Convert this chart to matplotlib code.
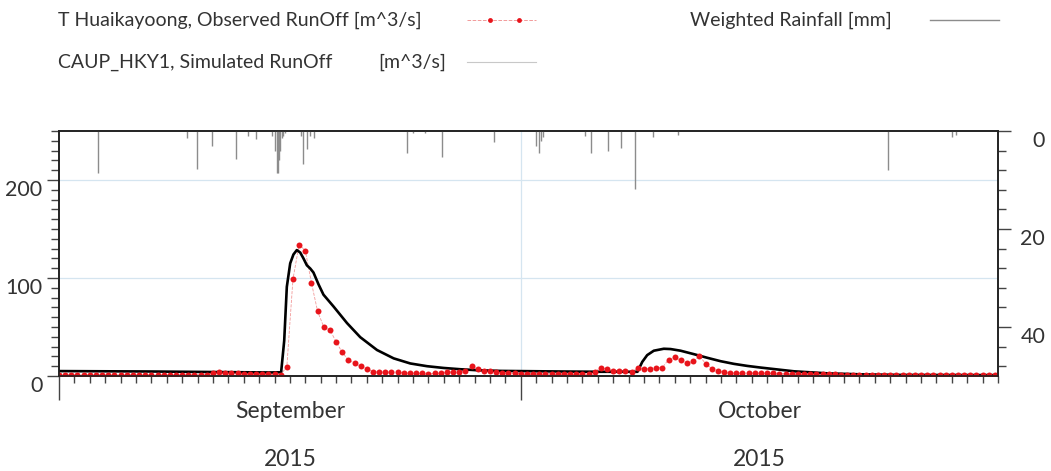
import numpy as np
import matplotlib
matplotlib.use("Agg")
import matplotlib.pyplot as plt
from matplotlib.lines import Line2D
from matplotlib.ticker import MultipleLocator, FixedLocator, NullFormatter
import matplotlib.transforms as mtransforms

plt.rcParams['font.family'] = ['Lato', 'DejaVu Sans']

# observed runoff, one reading every 0.4 day from 1 Sep 2015
obs_step = 0.4
obs_runoff = [
    1.0, 1.0, 0.9, 0.9, 0.9, 0.9, 0.9, 0.8, 0.8, 0.8, 0.8, 0.8, 0.8, 0.8, 0.7,
    0.7, 0.7, 0.7, 0.7, 0.7, 0.8, 1.0, 1.0, 1.2, 1.5,
    3.5, 3.6, 3.5, 3.4, 3.2,
    2.4, 2.3, 2.2, 2.1, 2.0, 1.7, 1.5,
    9.3, 99, 134, 128, 95, 66, 50, 47, 35, 24, 16.5, 12.8, 10, 7.2, 4.5, 4.2,
    4, 4, 4, 3.3, 3, 3, 2.6, 2.3, 2.6, 2.6, 4.2, 4, 3.6, 5, 9.7, 7.3, 5.3, 4.6,
    4, 3.3,
    2.9, 2.6, 2.5, 2.4, 2.4, 2.4, 2.4, 2.4, 2.4, 2.4, 2.4, 2.4, 2.4, 2.4,
    4.1, 8.6, 6.9, 5.5, 5.2, 4.8, 4.1, 8.2, 7.2, 7.6, 8.6, 8.6, 16.8, 18.9,
    16.2, 13.4, 14.8, 20.6, 12.7, 7.6, 5.2, 3.8, 3.4, 3.1, 3.1, 3.1, 3.1,
    3.0, 2.8, 2.6, 2.5, 2.4, 2.4, 2.3, 2.2, 2.1, 2.0, 1.9, 1.8, 1.6, 1.4, 1.2,
    1.0, 0.9, 0.8, 0.7, 0.7, 0.7, 0.7, 0.7, 0.7, 0.7, 0.7, 0.7, 0.7, 0.7, 0.7,
    0.7, 0.7, 0.7, 0.7, 0.7, 0.7, 0.7, 0.7, 0.7,
]
obs_day = np.arange(len(obs_runoff)) * obs_step

# simulated runoff (day since 1 Sep, m^3/s)
sim_day = [0, 5.9, 10.5, 13.7, 14.43, 14.63, 14.8, 15.02, 15.23, 15.45, 15.67,
           15.88, 16.1, 16.32, 16.53, 16.86, 17.18, 17.83, 18.71, 19.57, 20.66,
           21.74, 22.82, 23.91, 24.99, 26.07, 27.16, 28.67, 32.57, 35.18, 37.58,
           37.89, 38.21, 38.64, 39.29, 39.73, 40.38, 41.24, 42.11, 42.98, 43.84,
           44.71, 45.58, 47.74, 49.91, 52.08, 54.68, 61]
sim_runoff = [5.0, 4.6, 4.0, 3.6, 3.8, 36, 91, 115, 124, 128.5, 126,
              120, 113, 109.7, 105.6, 93.5, 83, 71, 54, 39.6, 26.5,
              18, 12.8, 10, 8.2, 6.9, 5.9, 5.2, 4.6, 4.3, 4.3,
              14.4, 21.3, 25.8, 27.8, 27.5, 25.8, 22.3, 18.6, 15.1, 12.4,
              10.3, 8.6, 4.8, 2.7, 1.7, 1.1, 0.9]

# weighted rainfall (day since 1 Sep, mm)
rain_day = [2.52, 8.30, 8.97, 9.97, 11.51, 12.27, 12.81, 13.85, 14.0, 14.17,
            14.24, 14.3, 14.37, 14.47, 14.56, 14.7, 15.73, 15.88, 16.1, 16.32,
            16.58, 22.61, 23.0, 23.8, 24.88, 28.24, 31.01, 31.16, 31.29, 31.47,
            34.2, 34.55, 35.66, 36.48, 37.39, 38.56, 40.21, 53.86, 58.04, 58.26]
rain_mm = [8.5, 1.5, 7.7, 3.1, 5.8, 1.0, 1.7, 1.0, 4.0, 8.5,
           8.5, 6.0, 4.0, 1.5, 1.0, 0.5, 1.0, 6.7, 3.6, 1.0,
           1.5, 4.4, 0.5, 0.5, 5.3, 2.2, 3.1, 4.4, 2.0, 1.2,
           1.1, 4.5, 4.0, 3.5, 11.8, 1.2, 0.8, 8.0, 1.2, 0.8]

month_names = ["September", "October"]
month_start = [0, 30]
month_mid = [15, 45.5]
year_label = "2015"

W, H = 1051, 471
fig = plt.figure(figsize=(W / 100, H / 100), dpi=100)
ax = fig.add_axes([59 / W, 1 - 376 / H, (998 - 59) / W, (376 - 131) / H])

txt = '#333333'
grid_c = '#d5e5f0'
tickc = '#444444'

ax.plot(sim_day, sim_runoff, color='black', lw=1.9, zorder=4)
ax.plot(obs_day, obs_runoff, color='#f29a9a', lw=0.6, ls='--', zorder=3)
ax.plot(obs_day, obs_runoff, ls='none', marker='o', ms=4.3, mec='none',
        mfc='#e8141b', zorder=5)

ax.set_xlim(0, 61)
ax.set_ylim(0, 250)
ax.yaxis.set_major_locator(FixedLocator([0, 100, 200]))
ax.yaxis.set_minor_locator(MultipleLocator(10))
ax.xaxis.set_major_locator(FixedLocator(month_start))
ax.xaxis.set_minor_locator(MultipleLocator(1))
ax.xaxis.set_major_formatter(NullFormatter())
ax.tick_params(axis='y', which='major', length=9, width=1, color=tickc,
               labelsize=15.5, labelcolor=txt, pad=3)
ax.tick_params(axis='y', which='minor', length=6, width=1, color=tickc)
ax.tick_params(axis='x', which='major', length=17, width=1, color=tickc)
ax.tick_params(axis='x', which='minor', length=5, width=1, color=tickc)
for lbl in ax.get_yticklabels():
    lbl.set_verticalalignment('top')

for y in [100, 200]:
    ax.axhline(y, color=grid_c, lw=0.9, zorder=0)
ax.axvline(month_start[1], color=grid_c, lw=0.9, zorder=0)

for sp in ax.spines.values():
    sp.set_color('#222222')
    sp.set_linewidth(1.2)

# month / year labels below axis
trans = mtransforms.blended_transform_factory(ax.transData, fig.transFigure)
for name, mid in zip(month_names, month_mid):
    ax.text(mid, 1 - 412 / H, name, transform=trans, ha='center', va='center',
            fontsize=16.5, color=txt)
    ax.text(mid, 1 - 459 / H, year_label, transform=trans, ha='center',
            va='center', fontsize=16.5, color=txt)

# rainfall hanging from the top on an inverted right axis
ax2 = ax.twinx()
ax2.vlines(rain_day, 0, rain_mm, color='#8c8c8c', lw=1.0)
ax2.set_ylim(50, 0)
ax2.yaxis.set_major_locator(FixedLocator([0, 20, 40]))
ax2.yaxis.set_minor_locator(MultipleLocator(4))
ax2.tick_params(axis='y', which='major', length=9, width=1, color=tickc,
                labelsize=15.5, labelcolor=txt, pad=25)
ax2.tick_params(axis='y', which='minor', length=6, width=1, color=tickc)
for lbl in ax2.get_yticklabels():
    lbl.set_verticalalignment('top')
    lbl.set_horizontalalignment('right')
for sp in ax2.spines.values():
    sp.set_color('#222222')
    sp.set_linewidth(1.2)

# legend drawn by hand at the top
def fx(px):
    return px / W

def fy(py):
    return 1 - py / H

lg = 14
fig.text(fx(58), fy(20), "T Huaikayoong, Observed RunOff [m^3/s]",
         fontsize=lg, color=txt, va='center')
fig.add_artist(Line2D([fx(467), fx(536)], [fy(20), fy(20)], color='#f29a9a',
                      lw=0.7, ls='--', transform=fig.transFigure))
fig.add_artist(Line2D([fx(490), fx(519)], [fy(20), fy(20)], ls='none',
                      marker='o', ms=3.5, mec='none', mfc='#e8141b',
                      transform=fig.transFigure))
fig.text(fx(690), fy(20), "Weighted Rainfall [mm]", fontsize=lg, color=txt,
         va='center')
fig.add_artist(Line2D([fx(930), fx(999)], [fy(20), fy(20)], color='#8c8c8c',
                      lw=1.0, transform=fig.transFigure))
fig.text(fx(58), fy(62), "CAUP_HKY1, Simulated RunOff", fontsize=lg,
         color=txt, va='center')
fig.text(fx(378), fy(62), "[m^3/s]", fontsize=lg, color=txt, va='center')
fig.add_artist(Line2D([fx(467), fx(536)], [fy(62), fy(62)], color='#c8c8c8',
                      lw=0.8, transform=fig.transFigure))

fig.savefig("out.png", dpi=100)
